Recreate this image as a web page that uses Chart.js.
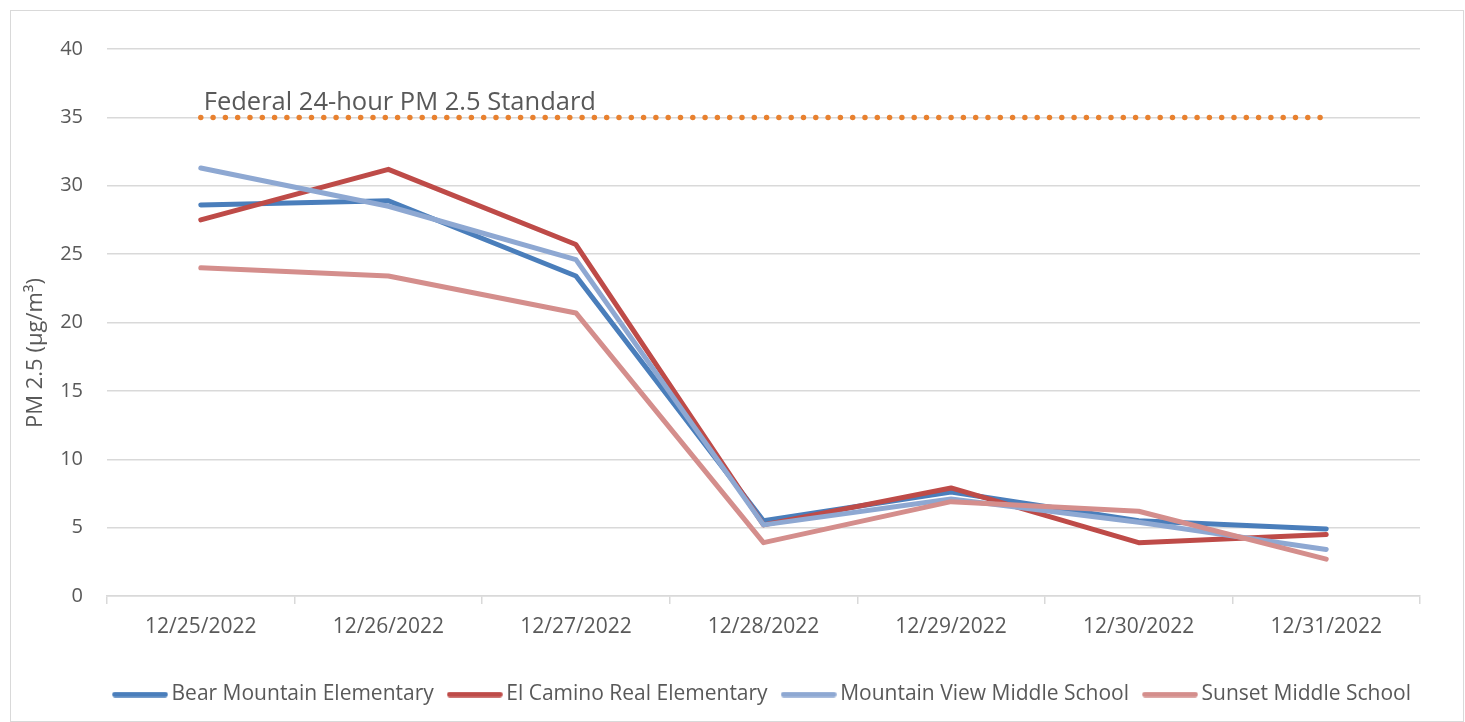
<!DOCTYPE html>
<html>
<head>
<meta charset="utf-8">
<script src="https://cdn.jsdelivr.net/npm/chart.js@4.4.1/dist/chart.umd.min.js"></script>
<style>
html,body{margin:0;padding:0;background:#fff;}
#wrap{position:relative;width:1465px;height:722px;overflow:hidden;}
#frame{position:absolute;left:10px;top:10px;width:1454px;height:712px;border:1.5px solid #d9d9d9;box-sizing:border-box;}
#c{position:absolute;left:0;top:0;}
</style>
</head>
<body>
<div id="wrap"><div id="frame"></div><canvas id="c" width="1465" height="722"></canvas></div>
<script>
// ---- data ----
const categories = ['12/25/2022','12/26/2022','12/27/2022','12/28/2022','12/29/2022','12/30/2022','12/31/2022'];
const bearMountain = [28.6, 28.9, 23.4, 5.5, 7.6, 5.5, 4.9];
const elCamino     = [27.5, 31.2, 25.7, 5.2, 7.9, 3.9, 4.5];
const mountainView = [31.3, 28.5, 24.6, 5.2, 7.1, 5.4, 3.4];
const sunset       = [24.0, 23.4, 20.7, 3.9, 6.9, 6.2, 2.7];
const federalStandard = [35, 35, 35, 35, 35, 35, 35];
const seriesNames = ['Bear Mountain Elementary','El Camino Real Elementary','Mountain View Middle School','Sunset Middle School'];
const standardLabel = 'Federal 24-hour PM 2.5 Standard';
const yMin = 0, yMax = 40, yStep = 5;
const yTitle = 'PM 2.5 (µg/m³)';

const colors = ['#4A7EBB','#BE4B48','#8EA8D2','#D48E8C'];
const FONT = "'Open Sans', 'DejaVu Sans', sans-serif";
const TXT = '#595959';

function legendSwatch(color) {
  const c = document.createElement('canvas');
  c.width = 56; c.height = 6;
  const g = c.getContext('2d');
  g.strokeStyle = color; g.lineWidth = 5.5; g.lineCap = 'round';
  g.beginPath(); g.moveTo(3, 3); g.lineTo(53, 3); g.stroke();
  return c;
}

function lineDs(label, data, color, order) {
  return {label, data, borderColor: color, backgroundColor: color, borderWidth: 5,
    pointRadius: 0, pointStyle: legendSwatch(color), tension: 0, fill: false, order,
    borderCapStyle: 'round', borderJoinStyle: 'round'};
}

const textPlugin = {
  id: 'texts',
  afterDatasetsDraw(chart) {
    const x = chart.scales.x.getPixelForValue(0);
    const y = chart.scales.y.getPixelForValue(federalStandard[0]);
    const ctx = chart.ctx;
    ctx.save();
    ctx.font = '25.5px ' + FONT;
    ctx.fillStyle = TXT;
    ctx.textAlign = 'left';
    ctx.textBaseline = 'alphabetic';
    ctx.fillText(standardLabel, x + 3, y - 7);
    ctx.restore();
  },
  afterDraw(chart) {
    const ctx = chart.ctx;
    ctx.save();
    ctx.translate(42, 353);
    ctx.rotate(-Math.PI / 2);
    ctx.font = '22px ' + FONT;
    ctx.fillStyle = TXT;
    ctx.textAlign = 'center';
    ctx.textBaseline = 'alphabetic';
    ctx.fillText(yTitle, 0, 0);
    ctx.restore();
  }
};
const legendShift = {
  id: 'legendShift',
  beforeDraw(chart) {
    const lg = chart.legend;
    if (!lg) return;
    lg.left += 55; lg.right += 55;
  }
};

new Chart(document.getElementById('c'), {
  type: 'line',
  data: {
    labels: categories,
    datasets: [
      lineDs(seriesNames[0], bearMountain, colors[0], 4),
      lineDs(seriesNames[1], elCamino, colors[1], 3),
      lineDs(seriesNames[2], mountainView, colors[2], 2),
      lineDs(seriesNames[3], sunset, colors[3], 1),
      {label: standardLabel, data: federalStandard, borderColor: '#E8812F', backgroundColor: '#E8812F',
       borderWidth: 5.5, borderDash: [0, 12.3], borderCapStyle: 'round', pointRadius: 0, fill: false, order: 0}
    ]
  },
  options: {
    responsive: false,
    animation: false,
    devicePixelRatio: 1,
    layout: {padding: {left: 0, right: 45, top: 49, bottom: 7}},
    plugins: {
      tooltip: {enabled: false},
      legend: {
        position: 'bottom',
        labels: {
          font: {family: FONT, size: 21},
          color: TXT,
          usePointStyle: true,
          pointStyleWidth: 42,
          padding: 20,
          filter: item => item.datasetIndex < 4,
          sort: (a, b) => a.datasetIndex - b.datasetIndex
        }
      }
    },
    scales: {
      x: {
        offset: true,
        grid: {offset: true, drawOnChartArea: false, drawTicks: true, tickLength: 8, color: '#d9d9d9', lineWidth: 1.5},
        border: {display: true, color: '#d9d9d9', width: 1.5},
        ticks: {font: {family: FONT, size: 21}, color: TXT, padding: 10, maxRotation: 0},
        afterFit: s => { s.height = 68; }
      },
      y: {
        min: yMin, max: yMax,
        ticks: {stepSize: yStep, font: {family: FONT, size: 20}, color: TXT, padding: 24},
        grid: {color: '#d9d9d9', lineWidth: 1.5, drawTicks: false},
        border: {display: false},
        title: {display: false},
        afterFit: s => { s.width = 107; }
      }
    }
  },
  plugins: [textPlugin, legendShift]
});
</script>
</body>
</html>
